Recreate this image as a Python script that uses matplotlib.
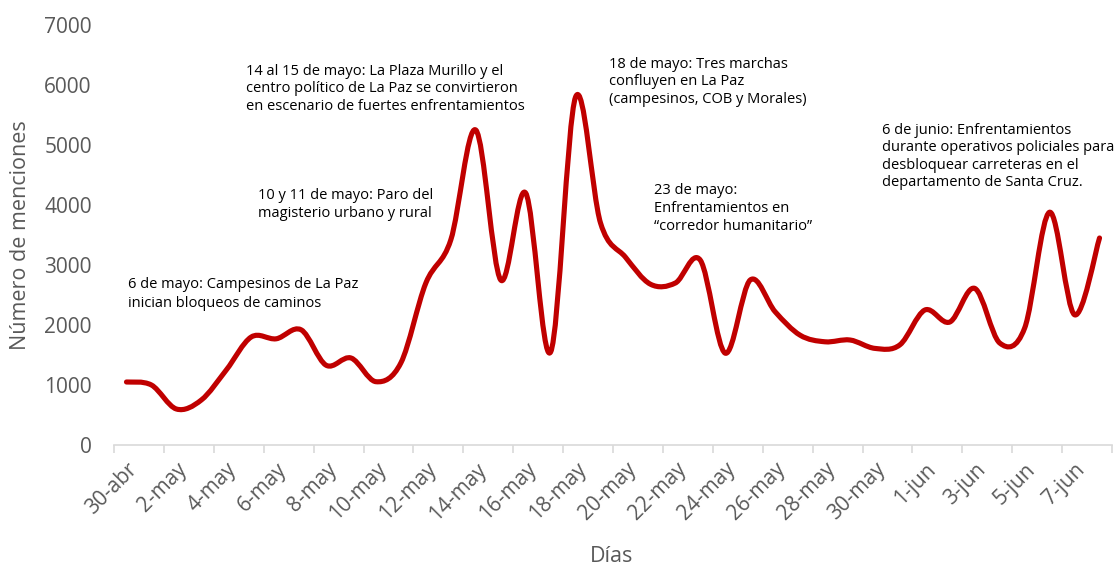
import matplotlib
matplotlib.use("Agg")
import matplotlib.pyplot as plt
from matplotlib.path import Path
from matplotlib.patches import PathPatch
import numpy as np

# fechas (30-abr al 8-jun) y menciones diarias
dias = ["30-abr"] + ["%d-may" % d for d in range(1, 32)] + ["%d-jun" % d for d in range(1, 9)]
menciones = [1050, 1000, 600, 750, 1250, 1800, 1770, 1920, 1330, 1450,
             1055, 1370, 2700, 3420, 5250, 2750, 4200, 1550, 5800, 3700,
             3130, 2680, 2700, 3080, 1530, 2750, 2220, 1830, 1720, 1750,
             1610, 1670, 2250, 2050, 2610, 1700, 1950, 3880, 2170, 3450]

notas = [
    "6 de mayo: Campesinos de La Paz\ninician bloqueos de caminos",
    "10 y 11 de mayo: Paro del\nmagisterio urbano y rural",
    "14 al 15 de mayo: La Plaza Murillo y el\ncentro político de La Paz se convirtieron\nen escenario de fuertes enfrentamientos",
    "18 de mayo: Tres marchas\nconfluyen en La Paz\n(campesinos, COB y Morales)",
    "23 de mayo:\nEnfrentamientos en\n\u201ccorredor humanitario\u201d",
    "6 de junio: Enfrentamientos\ndurante operativos policiales para\ndesbloquear carreteras en el\ndepartamento de Santa Cruz.",
]
# posicion (px) de la esquina superior izquierda de cada nota
nota_pos = [(128, 277), (258, 188), (246, 64), (609, 57), (654, 183), (882, 123)]
nota_esp = [1.4, 1.25, 1.22, 1.22, 1.28, 1.22]

W, H = 1119, 568
gris = "#595959"
plt.rcParams["font.family"] = ["Open Sans", "DejaVu Sans"]

fig = plt.figure(figsize=(W / 100, H / 100), dpi=100)
ax = fig.add_axes([114 / W, (H - 445) / H, 998 / W, 420 / H])

# curva suavizada tipo Excel (bezier a partir de los puntos)
x = np.arange(len(menciones), dtype=float)
y = np.array(menciones, dtype=float)
pts = np.column_stack([x, y])
ext = np.vstack([pts[0], pts, pts[-1]])
verts = [pts[0]]
codes = [Path.MOVETO]
for i in range(len(pts) - 1):
    p0, p1, p2, p3 = ext[i], ext[i + 1], ext[i + 2], ext[i + 3]
    c1 = p1 + (p2 - p0) / 6
    c2 = p2 - (p3 - p1) / 6
    verts += [c1, c2, p2]
    codes += [Path.CURVE4] * 3
ax.add_patch(PathPatch(Path(verts, codes), fill=False, edgecolor="#C00000",
                       lw=3.7, capstyle="round", joinstyle="round"))

ax.set_xlim(-0.5, len(dias) - 0.5)
ax.set_ylim(0, 7000)
ax.set_yticks(range(0, 7001, 1000))
ax.tick_params(axis="y", length=0, labelsize=15, labelcolor=gris, pad=16)

ax.set_xticks(x[::2])
ax.set_xticklabels(dias[::2], rotation=45, ha="right", rotation_mode="anchor")
ax.set_xticks(np.arange(-0.5, len(dias), 2), minor=True)
ax.tick_params(axis="x", which="major", length=0, labelsize=15, labelcolor=gris, pad=10)
ax.tick_params(axis="x", which="minor", length=6, color="#d9d9d9", width=1.2)

for s in ["top", "right", "left"]:
    ax.spines[s].set_visible(False)
ax.spines["bottom"].set_color("#d9d9d9")
ax.spines["bottom"].set_linewidth(1.2)

fig.text(21 / W, 1 - 235 / H, "Número de menciones", rotation=90, ha="center",
         va="center", fontsize=15.5, color=gris)
fig.text(612 / W, 1 - 557 / H, "Días", ha="center", va="center", fontsize=15.5, color=gris)

for t, (px, py), ls in zip(notas, nota_pos, nota_esp):
    fig.text(px / W, 1 - py / H, t, ha="left", va="top", fontsize=10.5,
             color="black", linespacing=ls)

fig.savefig("out.png", dpi=100)
